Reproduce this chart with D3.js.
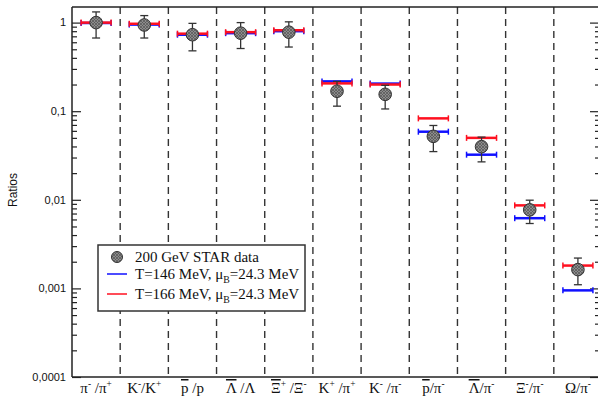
<!DOCTYPE html>
<html><head><meta charset="utf-8">
<script src="https://cdn.jsdelivr.net/npm/d3@7"></script>
<style>html,body{margin:0;padding:0;background:#fff;}svg{display:block;}</style>
</head><body>
<svg id="c" width="598" height="398"></svg>
<script>
// ---- data ----
const categories = ["π^{-} /π^{+}", "K^{-}/K^{+}", "~{p} /p", "~{Λ} /Λ", "~{Ξ}^{+} /Ξ^{-}",
  "K^{+} /π^{+}", "K^{-} /π^{-}", "~{p}/π^{-}", "~{Λ}/π^{-}", "Ξ^{-}/π^{-}", "Ω/π^{-}"];
const starData = [1.0, 0.94, 0.73, 0.76, 0.78, 0.168, 0.155, 0.052, 0.0398, 0.0077, 0.00163];
const starErrHigh = [1.32, 1.2, 0.98, 1.0, 1.02, 0.217, 0.196, 0.069, 0.051, 0.0099, 0.0022];
const starErrLow = [0.67, 0.67, 0.48, 0.51, 0.53, 0.114, 0.106, 0.035, 0.0268, 0.0054, 0.0011];
const modelT146 = [0.99, 0.95, 0.73, 0.76, 0.80, 0.217, 0.205, 0.0587, 0.0323, 0.0062, 0.00095];
const modelT166 = [1.0, 0.97, 0.75, 0.78, 0.82, 0.206, 0.200, 0.083, 0.050, 0.00865, 0.00181];
const yTickValues = [1, 0.1, 0.01, 0.001, 0.0001];
const yTickLabels = ["1", "0,1", "0,01", "0,001", "0,0001"];
const legendLabels = ["200 GeV STAR data", "T=146 MeV, μ_{B}=24.3 MeV", "T=166 MeV, μ_{B}=24.3 MeV"];
const yTitle = "Ratios";

// ---- layout ----
const svg = d3.select("#c");
const L = 72, R = 602, T = 7, B = 377;
const x = d3.scaleBand().domain(d3.range(categories.length)).range([L, R]).padding(0);
const y = d3.scaleLog().domain([1e-4, 1.5]).range([B, T]);
const cx = i => x(i) + x.bandwidth() / 2;
const axisColor = "#222";

// pattern for hatched markers
const defs = svg.append("defs");
const pat = defs.append("pattern").attr("id", "hatch").attr("patternUnits", "userSpaceOnUse")
  .attr("width", 3).attr("height", 3);
pat.append("rect").attr("width", 3).attr("height", 3).attr("fill", "#8c8c8c");
pat.append("path").attr("d", "M0,3 L3,0 M0,0 L3,3").attr("stroke", "#555").attr("stroke-width", 0.7);

// rich text helper: ^{sup}, _{sub}, ~{overline}
function rich(sel, str, fs) {
  const re = /(\^\{[^}]*\}|_\{[^}]*\}|~\{[^}]*\})/g;
  const parts = str.split(re).filter(s => s.length);
  let shift = 0;
  parts.forEach(p => {
    let t = p, dy = 0, size = fs, over = false;
    if (p.startsWith("^{")) { t = p.slice(2, -1); dy = -fs * 0.42; size = fs * 0.62; }
    else if (p.startsWith("_{")) { t = p.slice(2, -1); dy = fs * 0.25; size = fs * 0.65; }
    else if (p.startsWith("~{")) { t = p.slice(2, -1); over = true; }
    const ts = sel.append("tspan").text(t).attr("font-size", size)
      .attr("dy", dy - shift);
    if (over) ts.style("text-decoration", "overline");
    shift = dy;
  });
}

// separators
svg.append("g").selectAll("line").data(d3.range(1, categories.length)).join("line")
  .attr("x1", i => x(i)).attr("x2", i => x(i)).attr("y1", T).attr("y2", B)
  .attr("stroke", "#333").attr("stroke-width", 1.4).attr("stroke-dasharray", "7,5");

// left axis
const minorTicks = [];
for (let e = -4; e < 1; e++) for (let m = 2; m <= 9; m++) { const v = m * Math.pow(10, e); if (v <= 1.5) minorTicks.push(v); }
const leftAxis = svg.append("g").attr("transform", `translate(${L},0)`);
leftAxis.call(d3.axisRight(y).tickValues(yTickValues).tickSize(9).tickFormat(""));
leftAxis.append("g").call(d3.axisRight(y).tickValues(minorTicks).tickSize(5).tickFormat(""));
leftAxis.selectAll(".domain").remove();
leftAxis.selectAll("line").attr("stroke", axisColor).attr("stroke-width", 1.2);
leftAxis.selectAll(".ylab").data(yTickValues).join("text").attr("class", "ylab")
  .attr("x", -6).attr("y", d => y(d)).attr("dy", "0.35em").attr("text-anchor", "end")
  .attr("font-family", "Liberation Sans, Arial, sans-serif").attr("font-size", 11)
  .attr("fill", "#111").text((d, i) => yTickLabels[i]);

// right axis ticks
const RA = 600;
const rightAxis = svg.append("g").attr("transform", `translate(${RA},0)`);
rightAxis.call(d3.axisLeft(y).tickValues(yTickValues).tickSize(10).tickFormat(""));
rightAxis.append("g").call(d3.axisLeft(y).tickValues(minorTicks).tickSize(5).tickFormat(""));
rightAxis.selectAll(".domain").remove();
rightAxis.selectAll("line").attr("stroke", axisColor).attr("stroke-width", 1.2);

// frame
svg.append("line").attr("x1", L).attr("x2", 598).attr("y1", T).attr("y2", T).attr("stroke", axisColor).attr("stroke-width", 1.5);
svg.append("line").attr("x1", L).attr("x2", 598).attr("y1", B).attr("y2", B).attr("stroke", axisColor).attr("stroke-width", 1.5);
svg.append("line").attr("x1", L).attr("x2", L).attr("y1", T).attr("y2", B).attr("stroke", axisColor).attr("stroke-width", 1.5);

// y title
svg.append("text").attr("transform", `translate(17,${(T + B) / 2 - 2}) rotate(-90)`)
  .attr("text-anchor", "middle").attr("font-family", "Liberation Sans, Arial, sans-serif")
  .attr("font-size", 12).attr("fill", "#111").text(yTitle);

// x labels
categories.forEach((c, i) => {
  const t = svg.append("text").attr("x", cx(i)).attr("y", 393).attr("text-anchor", "middle")
    .attr("font-family", "Liberation Serif, Times New Roman, serif").attr("font-size", 15).attr("fill", "#111");
  rich(t, c, 15);
});

// model bars
const hw = 15;
function modelBars(vals, color) {
  const g = svg.append("g");
  g.selectAll("line.h").data(vals).join("line").attr("class", "h")
    .attr("x1", (d, i) => cx(i) - hw).attr("x2", (d, i) => cx(i) + hw)
    .attr("y1", d => y(d)).attr("y2", d => y(d)).attr("stroke", color).attr("stroke-width", 2.5);
  [-hw, hw].forEach(o => {
    g.selectAll("line.c" + (o > 0 ? "r" : "l")).data(vals).join("line").attr("class", "c" + (o > 0 ? "r" : "l"))
      .attr("x1", (d, i) => cx(i) + o).attr("x2", (d, i) => cx(i) + o)
      .attr("y1", d => y(d) - 3).attr("y2", d => y(d) + 3).attr("stroke", color).attr("stroke-width", 1.5);
  });
}
modelBars(modelT146, "#1010ff");
modelBars(modelT166, "#ff1020");

// data error bars + markers
const eg = svg.append("g");
eg.selectAll("line.v").data(starData).join("line").attr("class", "v")
  .attr("x1", (d, i) => cx(i)).attr("x2", (d, i) => cx(i))
  .attr("y1", (d, i) => y(starErrHigh[i])).attr("y2", (d, i) => y(starErrLow[i]))
  .attr("stroke", "#333").attr("stroke-width", 1.3);
[starErrHigh, starErrLow].forEach((arr, k) => {
  eg.selectAll("line.cap" + k).data(arr).join("line").attr("class", "cap" + k)
    .attr("x1", (d, i) => cx(i) - 4).attr("x2", (d, i) => cx(i) + 4)
    .attr("y1", d => y(d)).attr("y2", d => y(d)).attr("stroke", "#333").attr("stroke-width", 1.3);
});
eg.selectAll("circle").data(starData).join("circle")
  .attr("cx", (d, i) => cx(i)).attr("cy", d => y(d)).attr("r", 6.3)
  .attr("fill", "url(#hatch)").attr("stroke", "#333").attr("stroke-width", 1);

// legend
const lg = svg.append("g");
lg.append("rect").attr("x", 98).attr("y", 245).attr("width", 207).attr("height", 66)
  .attr("fill", "#fff").attr("stroke", "#333").attr("stroke-width", 1.5);
const ly = [257, 274, 294];
lg.append("circle").attr("cx", 117).attr("cy", ly[0]).attr("r", 5.5).attr("fill", "url(#hatch)").attr("stroke", "#333");
lg.append("line").attr("x1", 107).attr("x2", 127).attr("y1", ly[1]).attr("y2", ly[1]).attr("stroke", "#1010ff").attr("stroke-width", 1.5);
lg.append("line").attr("x1", 107).attr("x2", 127).attr("y1", ly[2]).attr("y2", ly[2]).attr("stroke", "#ff1020").attr("stroke-width", 1.5);
legendLabels.forEach((s, i) => {
  const t = lg.append("text").attr("x", 135).attr("y", ly[i] + 5)
    .attr("font-family", "Liberation Serif, Times New Roman, serif").attr("font-size", 15).attr("fill", "#111");
  rich(t, s, 15);
});
</script>
</body></html>
